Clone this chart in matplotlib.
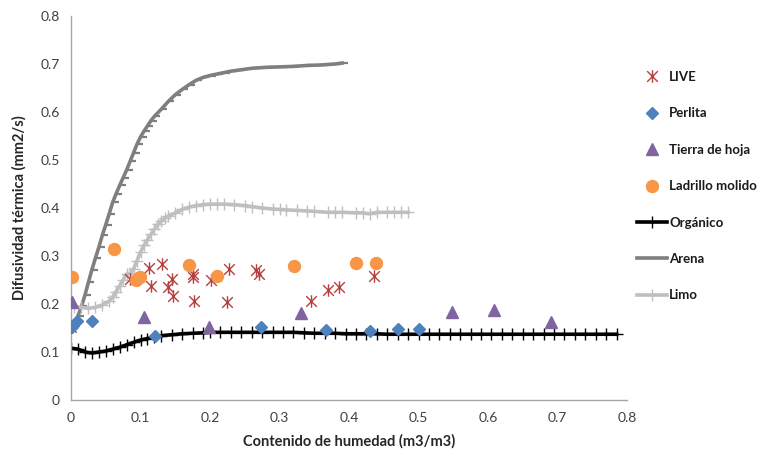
import matplotlib
matplotlib.use("Agg")
import matplotlib.pyplot as plt
from matplotlib.path import Path

# ---------------- data ----------------
live_x = [0.000, 0.085, 0.112, 0.115, 0.131, 0.140, 0.146, 0.147, 0.175, 0.176, 0.177,
          0.201, 0.227, 0.224, 0.266, 0.271, 0.346, 0.370, 0.385, 0.436]
live_y = [0.153, 0.252, 0.275, 0.237, 0.283, 0.235, 0.252, 0.217, 0.262, 0.257, 0.206,
          0.250, 0.273, 0.205, 0.271, 0.262, 0.206, 0.229, 0.236, 0.258]

perlita_x = [0.001, 0.009, 0.030, 0.121, 0.273, 0.367, 0.430, 0.471, 0.501]
perlita_y = [0.152, 0.165, 0.164, 0.134, 0.152, 0.146, 0.144, 0.147, 0.147]

tierra_x = [0.001, 0.105, 0.199, 0.331, 0.548, 0.609, 0.690]
tierra_y = [0.204, 0.173, 0.153, 0.182, 0.184, 0.187, 0.163]

ladrillo_x = [0.002, 0.062, 0.094, 0.099, 0.170, 0.210, 0.321, 0.410, 0.439]
ladrillo_y = [0.257, 0.314, 0.250, 0.257, 0.281, 0.259, 0.279, 0.285, 0.286]

organico_x = [0.000, 0.010, 0.020, 0.030, 0.040, 0.050, 0.060, 0.070, 0.080, 0.090,
              0.100, 0.110, 0.120, 0.130, 0.145, 0.160, 0.175, 0.190, 0.200, 0.215,
              0.230, 0.245, 0.260, 0.275, 0.290, 0.305, 0.320, 0.335, 0.350, 0.365,
              0.380, 0.395, 0.410, 0.425, 0.440, 0.455, 0.470, 0.485, 0.500, 0.515,
              0.530, 0.545, 0.560, 0.575, 0.590, 0.605, 0.620, 0.635, 0.650, 0.665,
              0.680, 0.695, 0.710, 0.725, 0.740, 0.755, 0.770, 0.785]
organico_y = [0.108, 0.106, 0.100, 0.098, 0.100, 0.102, 0.106, 0.110, 0.115, 0.120,
              0.125, 0.128, 0.131, 0.134, 0.136, 0.138, 0.139, 0.140, 0.141, 0.141,
              0.141, 0.141, 0.141, 0.141, 0.141, 0.141, 0.141, 0.140, 0.139, 0.139,
              0.139, 0.138, 0.138, 0.138, 0.138, 0.137, 0.137, 0.137, 0.137, 0.137,
              0.137, 0.137, 0.137, 0.137, 0.137, 0.137, 0.137, 0.137, 0.137, 0.137,
              0.137, 0.137, 0.137, 0.137, 0.137, 0.137, 0.137, 0.137]

arena_x = [0.005, 0.010, 0.015, 0.020, 0.025, 0.030, 0.035, 0.040, 0.045, 0.050,
           0.055, 0.060, 0.065, 0.070, 0.075, 0.080, 0.085, 0.090, 0.095, 0.100,
           0.105, 0.110, 0.115, 0.120, 0.130, 0.140, 0.150, 0.160, 0.170, 0.180,
           0.190, 0.200, 0.210, 0.220, 0.230, 0.240, 0.260, 0.280, 0.300, 0.320,
           0.340, 0.360, 0.380, 0.390]
arena_y = [0.155, 0.175, 0.195, 0.218, 0.245, 0.271, 0.295, 0.318, 0.343, 0.365,
           0.388, 0.412, 0.430, 0.447, 0.463, 0.479, 0.497, 0.515, 0.533, 0.548,
           0.560, 0.571, 0.582, 0.591, 0.606, 0.622, 0.636, 0.647, 0.657, 0.666,
           0.672, 0.676, 0.679, 0.682, 0.685, 0.687, 0.691, 0.693, 0.694, 0.695,
           0.697, 0.698, 0.700, 0.702]

limo_x = [0.005, 0.015, 0.025, 0.035, 0.045, 0.055, 0.060, 0.065, 0.070, 0.075,
          0.080, 0.085, 0.090, 0.095, 0.100, 0.105, 0.110, 0.115, 0.120, 0.125,
          0.130, 0.135, 0.140, 0.150, 0.160, 0.170, 0.180, 0.190, 0.200, 0.210,
          0.220, 0.235, 0.250, 0.260, 0.275, 0.290, 0.300, 0.310, 0.325, 0.340,
          0.350, 0.370, 0.380, 0.390, 0.410, 0.420, 0.430, 0.440, 0.455, 0.465,
          0.475, 0.485]
limo_y = [0.194, 0.193, 0.191, 0.193, 0.198, 0.206, 0.215, 0.226, 0.238, 0.250,
          0.262, 0.264, 0.273, 0.290, 0.308, 0.322, 0.334, 0.345, 0.356, 0.366,
          0.373, 0.379, 0.383, 0.390, 0.397, 0.402, 0.405, 0.407, 0.408, 0.408,
          0.408, 0.407, 0.405, 0.403, 0.400, 0.398, 0.397, 0.396, 0.395, 0.394,
          0.393, 0.391, 0.391, 0.391, 0.390, 0.390, 0.388, 0.391, 0.391, 0.391,
          0.391, 0.391]

x_ticks = [0, 0.1, 0.2, 0.3, 0.4, 0.5, 0.6, 0.7, 0.8]
x_tick_labels = ["0", "0.1", "0.2", "0.3", "0.4", "0.5", "0.6", "0.7", "0.8"]
y_ticks = [0, 0.1, 0.2, 0.3, 0.4, 0.5, 0.6, 0.7, 0.8]
y_tick_labels = ["0", "0.1", "0.2", "0.3", "0.4", "0.5", "0.6", "0.7", "0.8"]

# ---------------- figure ----------------
plt.rcParams['font.family'] = ['Lato', 'DejaVu Sans']

fig = plt.figure(figsize=(7.61, 4.51), dpi=100)
ax = fig.add_axes([71/761, 1-400/451, (627-71)/761, (400-16)/451])

dash_right = Path([(0, 0), (1, 0)], [Path.MOVETO, Path.LINETO])
excel_star = Path([(0, -1), (0, 1), (-0.85, -0.85), (0.85, 0.85), (-0.85, 0.85), (0.85, -0.85)],
                  [Path.MOVETO, Path.LINETO, Path.MOVETO, Path.LINETO, Path.MOVETO, Path.LINETO])

ax.plot(organico_x, organico_y, color='black', lw=2.6, marker='+', ms=8, mew=1.0,
        label='Orgánico', zorder=2)
ax.plot(arena_x, arena_y, color='#7f7f7f', lw=2.6, marker=dash_right, ms=9, mew=1.6,
        label='Arena', zorder=2)
ax.plot(limo_x, limo_y, color='#bfbfbf', lw=2.6, marker='+', ms=8, mew=1.0,
        label='Limo', zorder=2)

ax.plot(live_x, live_y, ls='none', marker=excel_star, ms=9, mew=1.0, color='#b5403d',
        mfc='none', label='LIVE', zorder=3)
ax.plot(perlita_x, perlita_y, ls='none', marker='D', ms=6.6, color='#4f81bd',
        mec='#4f81bd', label='Perlita', zorder=3)
ax.plot(tierra_x, tierra_y, ls='none', marker='^', ms=9, color='#8064a2',
        mec='#8064a2', label='Tierra de hoja', zorder=3)
ax.plot(ladrillo_x, ladrillo_y, ls='none', marker='o', ms=8.6, color='#f79646',
        mec='#f79646', label='Ladrillo molido', zorder=3)

ax.set_xlim(0, 0.8)
ax.set_ylim(0, 0.8)
ax.set_xticks(x_ticks)
ax.set_xticklabels(x_tick_labels)
ax.set_yticks(y_ticks)
ax.set_yticklabels(y_tick_labels)
ax.tick_params(length=0, labelsize=10, colors='#404040', pad=8)
ax.tick_params(axis='x', pad=9)
for s in ['top', 'right']:
    ax.spines[s].set_visible(False)
for s in ['left', 'bottom']:
    ax.spines[s].set_color('#a6a6a6')
    ax.spines[s].set_linewidth(1.0)

ax.set_xlabel('Contenido de humedad (m3/m3)', fontsize=10.5, fontweight='bold',
              color='#262626', labelpad=7)
ax.set_ylabel('Difusividad térmica (mm2/s)', fontsize=10.5, fontweight='bold',
              color='#262626', labelpad=10)

handles, labels = ax.get_legend_handles_labels()
order = ['LIVE', 'Perlita', 'Tierra de hoja', 'Ladrillo molido', 'Orgánico', 'Arena', 'Limo']
hmap = dict(zip(labels, handles))
leg = fig.legend([hmap[l] for l in order], order, loc='upper left',
                 bbox_to_anchor=(637/761, 1-71/451), bbox_transform=fig.transFigure,
                 frameon=False, numpoints=1, handlelength=2.3, handletextpad=0.15,
                 labelspacing=1.85, borderpad=0, borderaxespad=0,
                 prop={'size': 9.5, 'weight': 'bold'})
for t in leg.get_texts():
    t.set_color('#1a1a1a')

fig.savefig('out.png', dpi=100)
